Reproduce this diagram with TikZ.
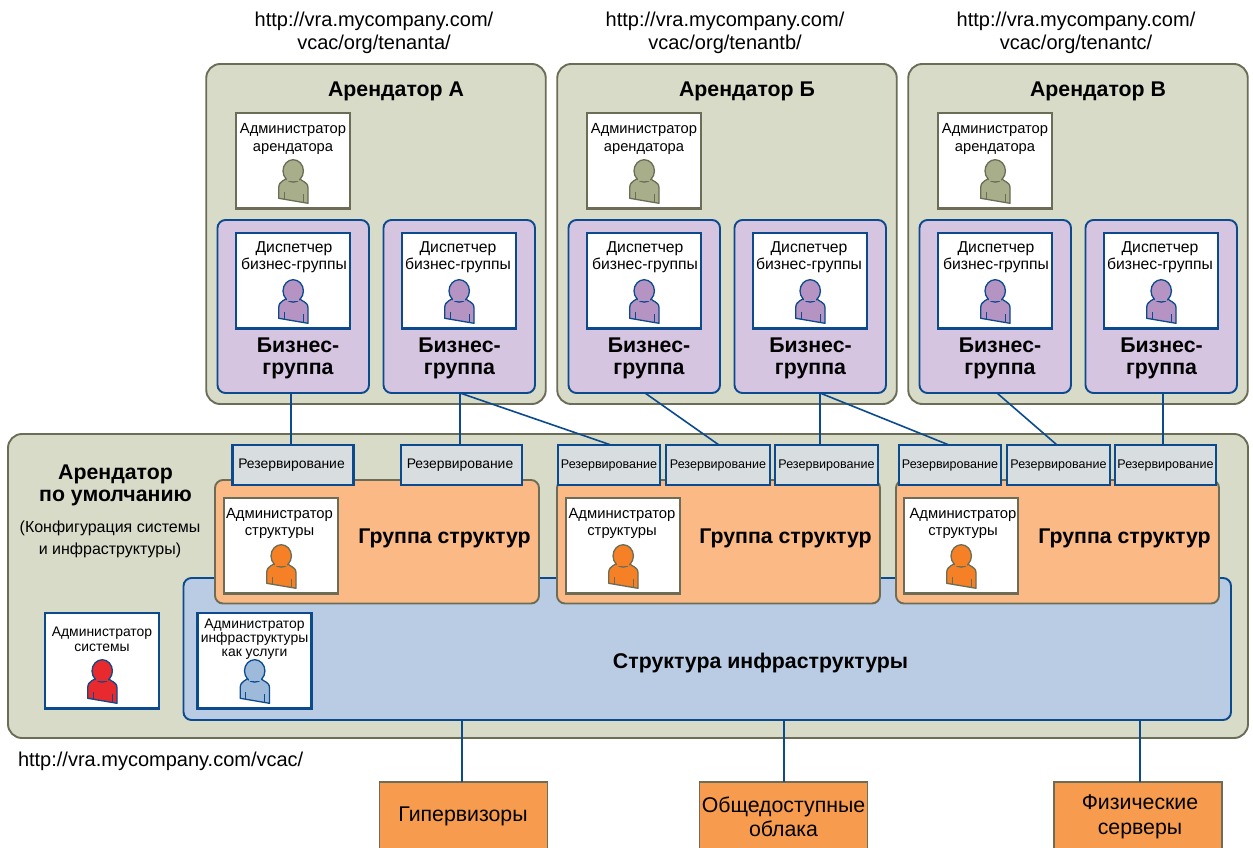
\documentclass[tikz,border=0pt]{standalone}
\usepackage{fontspec}
\setmainfont{Liberation Sans}
\definecolor{tenantfill}{HTML}{D9DBC9}
\definecolor{olive}{HTML}{6B6D57}
\definecolor{navy}{HTML}{0B4A8C}
\definecolor{lilac}{HTML}{D5C5E1}
\definecolor{skyfill}{HTML}{B9CCE4}
\definecolor{peach}{HTML}{FBB985}
\definecolor{resfill}{HTML}{D8DDE0}
\definecolor{hwfill}{HTML}{F79B4E}
\definecolor{pOlive}{HTML}{A8AE8A}
\definecolor{pPurple}{HTML}{B593C3}
\definecolor{pOrange}{HTML}{F58025}
\definecolor{pRed}{HTML}{E8292E}
\definecolor{pBlue}{HTML}{9DBADB}
\newcommand{\fnt}[2]{\fontsize{#1}{#2}\selectfont}
\tikzset{
  base/.style={rectangle,inner sep=0pt,outer sep=0pt},
  tenantbox/.style={base,draw=olive,fill=tenantfill,line width=1.9pt,rounded corners=14pt},
  bizbox/.style={base,draw=navy,fill=lilac,line width=1.9pt,rounded corners=8pt,minimum width=151.5pt,minimum height=173pt},
  skybox/.style={base,draw=navy,fill=skyfill,line width=1.9pt,rounded corners=8pt},
  fabbox/.style={base,draw=olive,fill=peach,line width=1.9pt,rounded corners=8pt,minimum height=123.5pt},
  resbox/.style={base,draw=navy,fill=resfill,line width=2.2pt,minimum height=40pt,font=\fnt{12.55}{15}},
  widelabel/.style={font=\fnt{13.9}{15},text width=109.5pt,align=left},
  rolebox/.style={base,fill=white,line width=2.3pt,minimum width=114pt,minimum height=95.5pt},
  hwbox/.style={base,draw=olive,fill=hwfill,line width=1.7pt,minimum width=168pt,minimum height=68pt},
  hwlabel/.style={base,align=center,font=\fnt{21.3}{24.5}},
  link/.style={draw=navy,line width=1.6pt},
  rolelabel/.style={base,anchor=north,align=center},
  tenantrole/.style={font=\fnt{14.7}{18}},
  managerrole/.style={font=\fnt{15.7}{17}},
  fabricrole/.style={font=\fnt{14.8}{17}},
  systemrole/.style={font=\fnt{13.9}{15}},
  iaasrole/.style={font=\fnt{13.9}{14.2}},
  urltext/.style={base,align=center,font=\fnt{20}{23}},
  heading/.style={base,align=center,yshift=-2pt,font=\fnt{21.3}{22}\bfseries},
}
% #1 centre x, #2 top y, #3 fill, #4 outline
\newcommand{\persona}[4]{%
  \begin{scope}[shift={(#1,#2)}]
    \draw[fill=#3,draw=#4,line width=1.3pt,line join=round]
      (-6,17) .. controls (-7,21) and (-14.3,20) .. (-14.3,28) -- (-14.3,38.3) -- (15,43.3) -- (15,28)
      .. controls (15,21) and (8,22) .. (6.5,18) -- cycle;
    \draw[fill=#3,draw=#4,line width=1.3pt] (0.2,10.9) ellipse [x radius=10.2pt,y radius=11.2pt];
    \fill[#3] (-6,16) rectangle (6,21);
    \draw[draw=#4,line width=.5pt] (-9,32) -- (-9,39) (10,34) -- (10,42.5);
  \end{scope}}
% #1 name, #2 centre x, #3 top y, #4 border, #5 text, #6 label offset, #7 person fill, #8 person outline, #9 label style
\newcommand{\rolecard}[9]{%
  \node[rolebox,draw=#4] (#1) at (#2,#3+47.75) {};
  \node[rolelabel,#9] (#1l) at ([yshift=-#6pt]#1.north) {#5};
  \persona{#2}{#3+47}{#7}{#8}}
% #1 prefix, #2 x offset, #3 title
\newcommand{\tenantblock}[3]{%
  \node[tenantbox,minimum width=339.5pt,minimum height=340pt] (#1) at (#2+376,234) {};
  \node[heading] (#1t) at (#2+396,89) {#3};
  \rolecard{#1adm}{#2+293}{113}{olive}{Администратор\\арендатора}{10}{pOlive}{olive}{tenantrole}
  \node[bizbox] (#1a) at (#2+293.25,306.5) {};
  \rolecard{#1ar}{#2+293}{233}{navy}{Диспетчер\\бизнес-группы}{9}{pPurple}{navy}{managerrole,xshift=1pt}
  \node[heading] (#1al) at (#2+298,356) {Бизнес-\\группа};
  \node[bizbox] (#1b) at (#2+459.25,306.5) {};
  \rolecard{#1br}{#2+459}{233}{navy}{Диспетчер\\бизнес-группы}{9}{pPurple}{navy}{managerrole,xshift=-1pt}
  \node[heading] (#1bl) at (#2+459.5,356) {Бизнес-\\группа};}
% #1 name, #2 left, #3 right, #4 role box centre, #5 label shift
\newcommand{\fabricblock}[5]{%
  \node[fabbox,minimum width=#3-#2] (#1) at ({(#2+#3)/2},541.75) {};
  \rolecard{#1r}{#4}{498}{olive}{Администратор\\структуры}{10}{pOrange}{olive}{fabricrole,xshift=#5pt}
  \node[heading] (#1t) at (#3-94.5,536) {Группа структур};}
\newcommand{\resnode}[4][]{\node[resbox,minimum width=#4-#3,#1] (#2) at ({(#3+#4)/2},465) {Резервирование};}
\begin{document}
\begin{tikzpicture}[x=1pt,y=-1pt]
\useasboundingbox (0,0) rectangle (1253,848);
\clip (0,0) rectangle (1253,848);
\fill[white] (0,0) rectangle (1253,848);

\node[urltext] (ua) at (374,33) {http://vra.mycompany.com/\\vcac/org/tenanta/};
\node[urltext] (ub) at (725,33) {http://vra.mycompany.com/\\vcac/org/tenantb/};
\node[urltext] (uc) at (1076,33) {http://vra.mycompany.com/\\vcac/org/tenantc/};

\tenantblock{tA}{0}{Арендатор А}
\tenantblock{tB}{351}{Арендатор Б}
\tenantblock{tC}{702}{Арендатор В}

\node[tenantbox,minimum width=1240pt,minimum height=304pt] (def) at (628,586) {};
\node[heading] (deft) at (115.5,483) {Арендатор\\по умолчанию};
\node[base,align=center,font=\fnt{16}{22}] (defn) at (110,539) {(Конфигурация системы\\и инфраструктуры)};
\node[urltext,anchor=west] (defu) at (18,761) {http://vra.mycompany.com/vcac/};

\node[skybox,minimum width=1047.5pt,minimum height=142pt] (infra) at (707.25,649) {};
\node[heading] (infrat) at (760.5,661) {Структура инфраструктуры};

\rolecard{sys}{102}{613}{navy}{Администратор\\системы}{14}{pRed}{navy}{systemrole}
\rolecard{iaas}{254.5}{613}{navy}{Администратор\\инфраструктуры\\как услуги}{6}{pBlue}{navy}{iaasrole}

\fabricblock{fa}{215}{539}{281}{-1.5}
\fabricblock{fb}{557}{880}{623}{-1}
\fabricblock{fc}{896}{1219}{961}{2}

\resnode[widelabel]{r1}{232.5}{353.5}
\resnode[widelabel]{r2}{401}{522}
\resnode{r3}{558}{660}
\resnode{r4}{666}{770}
\resnode{r5}{775}{878}
\resnode{r6}{899}{1001}
\resnode{r7}{1007}{1110}
\resnode{r8}{1115}{1216}

\draw[link] ([xshift=-2.25pt]tAa.south) -- ([xshift=-2pt]r1.north);
\draw[link] ([xshift=.75pt]tAb.south) -- ([xshift=-1.5pt]r2.north);
\draw[link] ([xshift=.75pt]tAb.south) -- ([xshift=2pt]r3.north);
\draw[link] ([xshift=.75pt]tBa.south) -- ([xshift=1pt]r4.north);
\draw[link] ([xshift=9.75pt]tBb.south) -- ([xshift=-6.5pt]r5.north);
\draw[link] ([xshift=9.75pt]tBb.south) -- ([xshift=-1pt]r6.north);
\draw[link] ([xshift=1.75pt]tCa.south) -- ([xshift=-1.5pt]r7.north);
\draw[link] ([xshift=1.75pt]tCb.south) -- ([xshift=-2.5pt]r8.north);

\node[hwbox] (h1) at (463.5,816) {};
\node[hwbox] (h2) at (783.5,816) {};
\node[hwbox] (h3) at (1138,816) {};
\node[hwlabel] (h1t) at (463,816.5) {Гипервизоры};
\node[hwlabel] (h2t) at (783.5,817) {Общедоступные\\облака};
\node[hwlabel] (h3t) at (1140,817) {Физические\\серверы};
\draw[link] (h1.north -| 462,0) -- (infra.south -| 462,0);
\draw[link] (h2.north -| 784,0) -- (infra.south -| 784,0);
\draw[link] (h3.north -| 1140,0) -- (infra.south -| 1140,0);
\end{tikzpicture}
\end{document}
